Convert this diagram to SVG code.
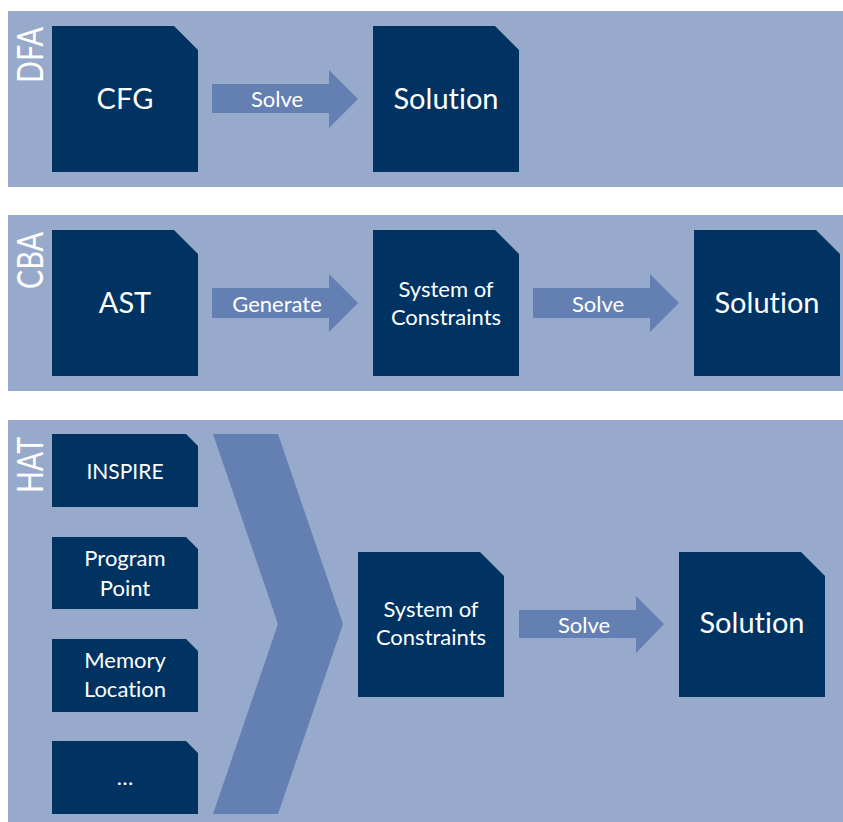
<svg xmlns="http://www.w3.org/2000/svg" width="843" height="822" viewBox="0 0 843 822">
<style>
.panel{fill:#97AACB}
.box{fill:#003361}
.arr{fill:#647FB2}
text{font-family:Lato,"Open Sans","Liberation Sans",sans-serif;fill:#ffffff;text-anchor:middle;font-variant-ligatures:none}
.big{font-size:29px}
.med{font-size:22px}
.sm{font-size:21px}
.lab{font-size:36px;text-anchor:start}
</style>
<rect width="843" height="822" fill="#ffffff"/>
<g id="panel-dfa"><rect class="panel" x="8" y="11" width="835" height="176"/><text class="lab" transform="translate(43,83) rotate(-90)" textLength="56" lengthAdjust="spacingAndGlyphs">DFA</text></g>
<g id="panel-cba"><rect class="panel" x="8" y="215" width="835" height="176"/><text class="lab" transform="translate(43,289) rotate(-90)" textLength="57" lengthAdjust="spacingAndGlyphs">CBA</text></g>
<g id="panel-hat"><rect class="panel" x="8" y="420" width="835" height="402"/><text class="lab" transform="translate(43,493) rotate(-90)" textLength="56" lengthAdjust="spacingAndGlyphs">HAT</text></g>

<g id="connectors">
<path class="arr" d="M212,84H329V70L358,99L329,128V113H212Z"/>
<text class="med" x="277" y="107">Solve</text>
<path class="arr" d="M212,288H329V274L358,303L329,332V318H212Z"/>
<text class="med" x="277" y="312">Generate</text>
<path class="arr" d="M533,288H650V274L679,303L650,332V318H533Z"/>
<text class="med" x="598" y="312">Solve</text>
<path class="arr" d="M213,434H278L343,624L278,814H213L278,624Z"/>
<path class="arr" d="M519,610H636V596L664,624L636,653V638H519Z"/>
<text class="med" x="584" y="633">Solve</text>
</g>

<g id="cfg"><path class="box" d="M52,26H174L198,50V172H52Z"/><text class="big" x="125" y="109">CFG</text></g>
<g id="dfa-solution"><path class="box" d="M373,26H495L519,50V172H373Z"/><text class="big" x="446" y="109">Solution</text></g>

<g id="ast"><path class="box" d="M52,230H174L198,254V376H52Z"/><text class="big" x="125" y="313">AST</text></g>
<g id="cba-constraints"><path class="box" d="M373,230H495L519,254V376H373Z"/><text class="med" x="446" y="297">System of</text><text class="med" x="446" y="325">Constraints</text></g>
<g id="cba-solution"><path class="box" d="M694,230H816L840,254V376H694Z"/><text class="big" x="767" y="313">Solution</text></g>

<g id="inspire"><path class="box" d="M52,434H186L198,446V507H52Z"/><text class="sm" x="125" y="479">INSPIRE</text></g>
<g id="program-point"><path class="box" d="M52,537H186L198,549V609H52Z"/><text class="med" x="125" y="566">Program</text><text class="med" x="125" y="596">Point</text></g>
<g id="memory-location"><path class="box" d="M52,639H186L198,651V712H52Z"/><text class="med" x="125" y="668">Memory</text><text class="med" x="125" y="697">Location</text></g>
<g id="more"><path class="box" d="M52,741H186L198,753V814H52Z"/><text class="med" x="125" y="785">…</text></g>
<g id="hat-constraints"><path class="box" d="M358,552H480L504,576V697H358Z"/><text class="med" x="431" y="617">System of</text><text class="med" x="431" y="645">Constraints</text></g>
<g id="hat-solution"><path class="box" d="M679,552H801L825,576V697H679Z"/><text class="big" x="752" y="633">Solution</text></g>
</svg>
